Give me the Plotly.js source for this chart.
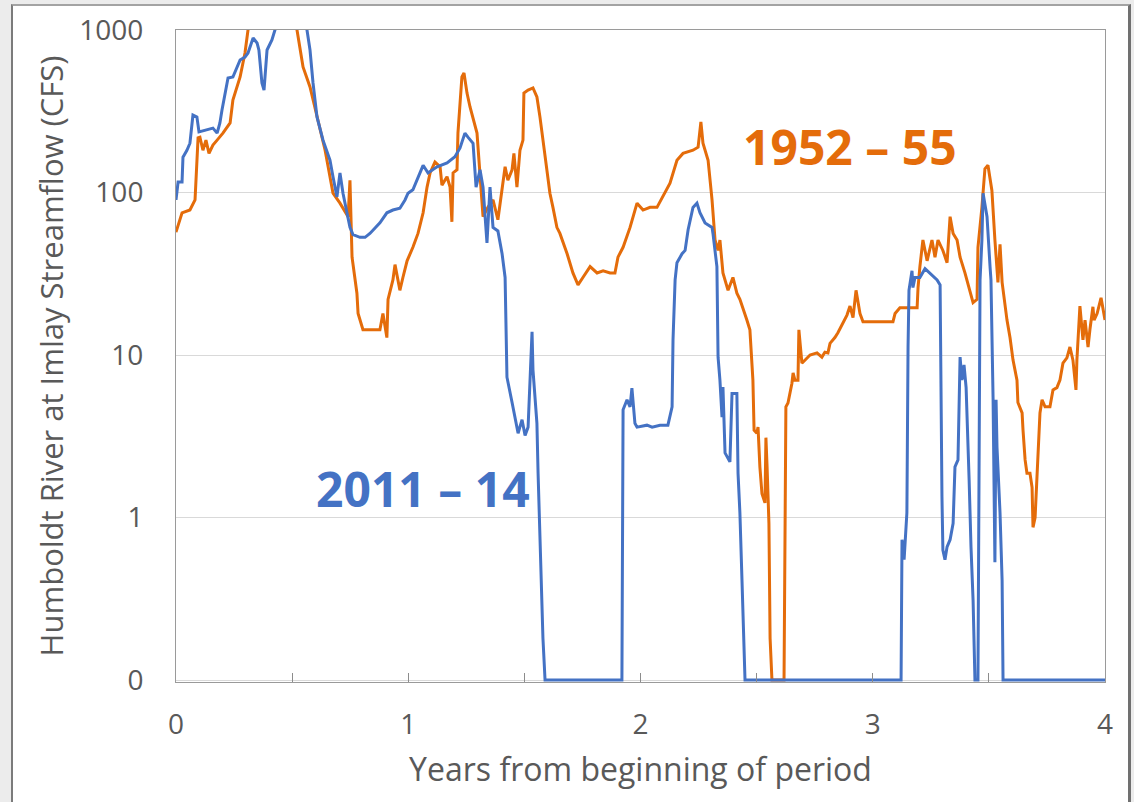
<!DOCTYPE html>
<html>
<head>
<meta charset="utf-8">
<script src="https://cdn.plot.ly/plotly-3.0.1.min.js"></script>
<style>
  html, body { margin: 0; padding: 0; width: 1134px; height: 802px; overflow: hidden; background: #ececec; }
  #frame { position: absolute; left: 11px; top: 4px; width: 1120px; height: 900px; box-sizing: border-box;
           background: #ffffff; border-left: 2px solid #7b7b7b; border-top: 2px solid #a3a3a3; border-right: 3px solid #707070; }
  #chart { position: absolute; left: 0; top: 0; width: 1134px; height: 802px; }
</style>
</head>
<body>
<div id="frame"></div>
<div id="chart"></div>
<script>
// Years from beginning of period and Humboldt River at Imlay streamflow (CFS).
// A flow of 0 is drawn on the axis floor that is labelled "0".
const ORANGE_LABEL = "1952 – 55";
const ORANGE_YEARS = [0.000,0.026,0.060,0.082,0.095,0.103,0.116,0.129,0.142,0.159,0.177,0.202,0.233,0.245,0.276,0.297,0.310,0.340,0.426,0.491,0.521,0.547,0.577,0.607,0.642,0.676,0.706,0.741,0.749,0.758,0.779,0.784,0.805,0.835,0.878,0.891,0.908,0.913,0.934,0.943,0.964,0.977,0.995,1.020,1.042,1.064,1.081,1.094,1.115,1.137,1.145,1.167,1.180,1.188,1.193,1.210,1.214,1.231,1.240,1.253,1.266,1.296,1.309,1.322,1.343,1.365,1.386,1.404,1.417,1.429,1.447,1.455,1.468,1.481,1.494,1.498,1.516,1.537,1.554,1.567,1.580,1.597,1.610,1.623,1.640,1.653,1.684,1.709,1.731,1.752,1.783,1.813,1.839,1.869,1.890,1.903,1.925,1.955,1.985,2.011,2.041,2.071,2.097,2.127,2.157,2.183,2.226,2.248,2.260,2.269,2.291,2.308,2.321,2.334,2.342,2.355,2.377,2.398,2.415,2.428,2.458,2.471,2.484,2.489,2.501,2.506,2.514,2.523,2.536,2.540,2.545,2.553,2.558,2.566,2.618,2.622,2.626,2.635,2.644,2.652,2.657,2.665,2.678,2.682,2.695,2.708,2.730,2.760,2.781,2.794,2.807,2.816,2.837,2.850,2.868,2.889,2.902,2.915,2.928,2.945,2.958,3.087,3.096,3.117,3.191,3.195,3.203,3.216,3.234,3.255,3.268,3.281,3.302,3.320,3.333,3.346,3.363,3.376,3.397,3.419,3.432,3.449,3.453,3.470,3.483,3.496,3.513,3.526,3.539,3.548,3.557,3.578,3.591,3.604,3.621,3.625,3.643,3.647,3.656,3.664,3.677,3.686,3.690,3.699,3.707,3.712,3.720,3.729,3.742,3.763,3.776,3.793,3.806,3.819,3.836,3.849,3.858,3.862,3.875,3.879,3.892,3.901,3.905,3.914,3.927,3.935,3.948,3.953,3.966,3.983,3.991,4.000];
const ORANGE_CFS = [57,75,78,90,217,219,182,210,174,196,210,232,268,371,514,722,1000,1400,1700,1400,1000,592,446,292,182,99,86,71,119,40,24,18,14.3,14.3,14.3,18,12.8,22,29,36,25,30,38,46,56,75,108,132,154,144,111,125,108,66,132,138,232,514,544,409,336,232,125,71,81,90,68,108,144,119,138,174,108,182,210,409,427,440,387,292,210,144,99,81,61,56,42,32,27,30,35,32,33,32,32,40,46,61,86,78,81,81,94,114,158,174,182,190,272,201,158,90,51,44,51,32,25,30,24,22,16.4,14.3,7.0,3.45,3.3,3.6,2.05,1.4,1.23,3.1,2.05,0.92,0.18,0,0,0.41,4.8,5.07,5.84,6.7,7.75,7.0,7.0,14.3,8.9,9.3,10,10.3,9.7,10.4,10.3,11.8,12.8,13.7,15.3,17.6,20,17,25,18,16,16,18,19.5,19.5,26,35,51,38,51,40,51,44,37,71,56,51,40,32,25,21,22,46,81,140,147,103,51,28,48,28,16.4,12.8,9.3,7.0,5.1,4.4,3.45,2.26,1.87,1.87,1.53,0.87,1.0,1.78,2.5,4.4,5.3,4.8,4.8,6.1,6.3,7.0,8.9,9.6,11.2,10,9.3,6.1,9.3,20,14.7,12.4,16.4,11.2,14.3,19.8,16.4,18,22.5,19,16.4];

const BLUE_LABEL = "2011 – 14";
const BLUE_YEARS = [0.000,0.009,0.026,0.030,0.047,0.060,0.073,0.090,0.099,0.133,0.159,0.177,0.189,0.198,0.224,0.245,0.276,0.297,0.310,0.332,0.349,0.357,0.370,0.379,0.392,0.413,0.426,0.469,0.534,0.564,0.577,0.590,0.607,0.633,0.663,0.676,0.693,0.706,0.719,0.736,0.749,0.762,0.792,0.814,0.835,0.878,0.908,0.934,0.964,0.986,0.999,1.020,1.051,1.064,1.085,1.124,1.167,1.201,1.223,1.244,1.257,1.279,1.292,1.309,1.322,1.339,1.352,1.365,1.386,1.404,1.417,1.421,1.425,1.447,1.468,1.473,1.490,1.503,1.516,1.533,1.537,1.554,1.559,1.572,1.580,1.589,1.920,1.925,1.942,1.955,1.963,1.976,1.985,2.028,2.050,2.084,2.118,2.136,2.140,2.149,2.157,2.179,2.192,2.205,2.226,2.243,2.256,2.278,2.308,2.312,2.329,2.334,2.342,2.351,2.355,2.364,2.385,2.394,2.415,2.420,2.428,2.437,2.450,3.122,3.126,3.135,3.139,3.147,3.152,3.156,3.169,3.173,3.182,3.203,3.225,3.246,3.277,3.290,3.294,3.298,3.302,3.311,3.320,3.333,3.346,3.354,3.367,3.376,3.384,3.393,3.402,3.406,3.415,3.423,3.432,3.440,3.453,3.462,3.470,3.475,3.492,3.505,3.509,3.518,3.526,3.531,3.535,3.548,3.557,3.561,4.000];
const BLUE_CFS = [90,116,116,165,182,201,300,292,236,242,249,232,268,322,507,514,654,682,722,893,832,753,472,427,753,868,1000,1400,1400,1000,753,472,292,210,158,125,94,132,99,75,61,55,53,53,56,65,75,78,80,90,99,104,132,147,132,144,152,166,188,232,219,201,108,138,108,49,108,61,58,42,30,11.2,7.3,5.1,3.6,3.3,4.0,3.2,3.6,13.9,8.1,3.8,1.87,0.46,0.18,0,0,4.6,5.3,4.8,6.25,3.8,3.6,3.7,3.6,3.7,3.7,4.8,12.4,29,37,42,44,59,81,86,75,65,61,56,35,9.7,7.0,4.15,6.35,2.5,2.2,5.8,5.8,1.87,1.07,0.41,0,0,0.73,0.55,0.70,1.07,11.2,25,33,26,30,30,34,32,29,27,2.7,1.34,0.63,0.55,0.66,0.73,0.92,2.05,2.26,9.7,7.0,8.7,6.3,4.4,1.7,0.66,0.31,0,0,29,51,99,71,35,29,5.5,0.53,5.3,2.7,1.07,0.41,0,0];

const Y_TICK_VALUES = [0.1, 1, 10, 100, 1000];
const Y_TICK_LABELS = ["0", "1", "10", "100", "1000"];
const ZERO_FLOW_LEVEL = 0.1;   // where "0" sits on the log axis

const ORANGE = "#E46C0A";
const BLUE = "#4472C4";
const GREY_TEXT = "#595959";
const FONT = "'Open Sans', 'Noto Sans', sans-serif";

const toAxis = v => (v === 0 ? ZERO_FLOW_LEVEL : v);

const traces = [
  { x: ORANGE_YEARS, y: ORANGE_CFS.map(toAxis), name: ORANGE_LABEL, type: "scatter", mode: "lines",
    line: { color: ORANGE, width: 3, shape: "linear" }, hoverinfo: "x+y" },
  { x: BLUE_YEARS, y: BLUE_CFS.map(toAxis), name: BLUE_LABEL, type: "scatter", mode: "lines",
    line: { color: BLUE, width: 3, shape: "linear" }, hoverinfo: "x+y" }
];

const layout = {
  width: 1134, height: 802,
  margin: { l: 176, r: 29, t: 30, b: 120, pad: 0 },
  paper_bgcolor: "rgba(0,0,0,0)",
  plot_bgcolor: "#ffffff",
  showlegend: false,
  font: { family: FONT, color: GREY_TEXT },
  xaxis: {
    range: [0, 4], tick0: 0, dtick: 1,
    ticks: "inside", ticklen: 9, tickcolor: "#8c8c8c", tickwidth: 1,
    minor: { dtick: 0.5, ticks: "inside", ticklen: 9, tickcolor: "#8c8c8c", showgrid: false },
    showgrid: false, zeroline: false,
    showline: true, linecolor: "#9a9a9a", linewidth: 1, mirror: true,
    tickfont: { family: FONT, size: 28, color: GREY_TEXT },
    ticklabelstandoff: 17,
    title: { text: "Years from beginning of period", font: { family: FONT, size: 32, color: GREY_TEXT }, standoff: 18 }
  },
  yaxis: {
    type: "log", range: [-1.0123, 3],
    tickmode: "array", tickvals: Y_TICK_VALUES, ticktext: Y_TICK_LABELS,
    ticks: "", showgrid: true, gridcolor: "#d9d9d9", gridwidth: 1, zeroline: false,
    showline: true, linecolor: "#9a9a9a", linewidth: 1, mirror: true,
    tickfont: { family: FONT, size: 28, color: GREY_TEXT },
    ticklabelstandoff: 26,
    title: { text: "Humboldt River at Imlay Streamflow (CFS)", font: { family: FONT, size: 31, color: GREY_TEXT }, standoff: 6 }
  },
  annotations: [
    { text: ORANGE_LABEL, x: 2.902, y: Math.log10(193), xref: "x", yref: "y", showarrow: false,
      xanchor: "center", yanchor: "middle", font: { family: FONT, size: 48, color: ORANGE, weight: "bold" } },
    { text: BLUE_LABEL, x: 1.0635, y: Math.log10(1.5), xref: "x", yref: "y", showarrow: false,
      xanchor: "center", yanchor: "middle", font: { family: FONT, size: 48, color: BLUE, weight: "bold" } }
  ]
};

Plotly.newPlot("chart", traces, layout, { staticPlot: true, displayModeBar: false });
</script>
</body>
</html>
